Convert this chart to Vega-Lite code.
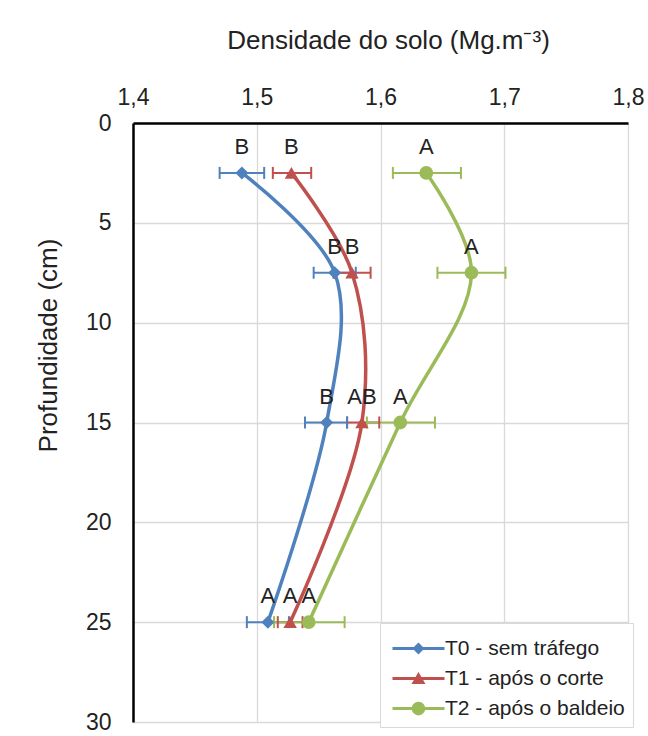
{
  "$schema": "https://vega.github.io/schema/vega-lite/v6.json",
  "width": 495,
  "height": 599,
  "autosize": {"type": "none"},
  "padding": {"left": 133, "top": 123, "right": 20, "bottom": 14},
  "background": "white",
  "config": {
    "view": {"stroke": null},
    "font": "Liberation Sans",
    "axis": {"labelFont": "Liberation Sans", "titleFont": "Liberation Sans", "labelColor": "#222222", "titleColor": "#222222", "titleFontWeight": "normal", "gridColor": "#D9D9D9", "gridWidth": 1.3, "ticks": false, "labelFlush": false},
    "legend": {"labelFont": "Liberation Sans", "titleFont": "Liberation Sans"}
  },
  "data": {
    "values": [
      {"serie": "T0 - sem tráfego", "depth": 2.5, "dens": 1.488, "lo": 1.470, "hi": 1.506, "letra": "B"},
      {"serie": "T0 - sem tráfego", "depth": 7.5, "dens": 1.563, "lo": 1.546, "hi": 1.580, "letra": "B"},
      {"serie": "T0 - sem tráfego", "depth": 15, "dens": 1.5565, "lo": 1.539, "hi": 1.573, "letra": "B"},
      {"serie": "T0 - sem tráfego", "depth": 25, "dens": 1.509, "lo": 1.492, "hi": 1.526, "letra": "A"},
      {"serie": "T1 - após o corte", "depth": 2.5, "dens": 1.528, "lo": 1.513, "hi": 1.544, "letra": "B"},
      {"serie": "T1 - após o corte", "depth": 7.5, "dens": 1.577, "lo": 1.562, "hi": 1.592, "letra": "B"},
      {"serie": "T1 - após o corte", "depth": 15, "dens": 1.585, "lo": 1.573, "hi": 1.599, "letra": "AB"},
      {"serie": "T1 - após o corte", "depth": 25, "dens": 1.527, "lo": 1.517, "hi": 1.537, "letra": "A"},
      {"serie": "T2 - após o baldeio", "depth": 2.5, "dens": 1.637, "lo": 1.610, "hi": 1.665, "letra": "A"},
      {"serie": "T2 - após o baldeio", "depth": 7.5, "dens": 1.6735, "lo": 1.646, "hi": 1.701, "letra": "A"},
      {"serie": "T2 - após o baldeio", "depth": 15, "dens": 1.616, "lo": 1.589, "hi": 1.644, "letra": "A"},
      {"serie": "T2 - após o baldeio", "depth": 25, "dens": 1.542, "lo": 1.514, "hi": 1.571, "letra": "A"}
    ]
  },
  "layer": [
    {
      "mark": {"type": "point", "filled": true, "opacity": 0, "strokeWidth": 0},
      "encoding": {
        "y": {
          "field": "depth", "type": "quantitative",
          "scale": {"domain": [0, 30], "reverse": true, "nice": false},
          "axis": {"values": [0, 5, 10, 15, 20, 25, 30], "title": "Profundidade (cm)", "titleFontSize": 26, "labelFontSize": 23, "labelPadding": 22, "domainColor": "#000000", "domainWidth": 2.5, "titleAngle": -90, "titleX": -85, "titleY": 222, "titleAlign": "center", "titleBaseline": "middle"}
        },
        "x": {
          "field": "dens", "type": "quantitative",
          "scale": {"domain": [1.4, 1.8], "nice": false, "zero": false},
          "axis": {"orient": "top", "values": [1.4, 1.5, 1.6, 1.7, 1.8], "labelExpr": "replace(format(datum.value, '.1f'), '.', ',')", "title": "Densidade do solo (Mg.m⁻³)", "titleFontSize": 26, "labelFontSize": 23, "labelPadding": 14, "domainColor": "#000000", "domainWidth": 2.5, "titleX": 255, "titleY": -83, "titleAlign": "center", "titleBaseline": "middle"}
        },
        "color": {
          "field": "serie", "type": "nominal",
          "scale": {"domain": ["T0 - sem tráfego", "T1 - após o corte", "T2 - após o baldeio"], "range": ["#4F81BD", "#C0504D", "#9BBB59"]},
          "legend": {"orient": "none", "legendX": 247, "legendY": 500, "title": " ", "titleFontSize": 4, "titlePadding": 3, "labelFontSize": 21, "labelColor": "#222222", "labelLimit": 400, "padding": 8, "strokeColor": "#D9D9D9", "fillColor": "white", "rowPadding": 8, "labelOffset": 36, "symbolSize": 144, "symbolStrokeWidth": 0, "symbolOpacity": 1}
        },
        "shape": {
          "field": "serie", "type": "nominal",
          "scale": {"domain": ["T0 - sem tráfego", "T1 - após o corte", "T2 - após o baldeio"], "range": [
            "M-1,-0.25H7.67V0.25H-1Z M3.33,-1L4.33,0L3.33,1L2.33,0Z",
            "M-1,-0.25H7.67V0.25H-1Z M3.33,-1.1L4.5,0.9L2.16,0.9Z",
            "M-1,-0.25H7.67V0.25H-1Z M2.2,0A1.13,1.13 0 1,1 4.46,0A1.13,1.13 0 1,1 2.2,0Z"
          ]},
          "legend": {"orient": "none", "legendX": 247, "legendY": 500, "title": " ", "titleFontSize": 4, "titlePadding": 3, "labelFontSize": 21, "labelColor": "#222222", "labelLimit": 400, "padding": 8, "strokeColor": "#D9D9D9", "fillColor": "white", "rowPadding": 8, "labelOffset": 36, "symbolSize": 144, "symbolStrokeWidth": 0, "symbolOpacity": 1}
        }
      }
    },
    {
      "mark": {"type": "rule", "strokeWidth": 2},
      "encoding": {
        "x": {"field": "lo", "type": "quantitative"},
        "x2": {"field": "hi"},
        "y": {"field": "depth", "type": "quantitative"},
        "color": {"field": "serie", "type": "nominal", "legend": null}
      }
    },
    {
      "mark": {"type": "tick", "orient": "vertical", "size": 12, "thickness": 2, "opacity": 1},
      "encoding": {"x": {"field": "lo", "type": "quantitative"}, "y": {"field": "depth", "type": "quantitative"}, "color": {"field": "serie", "type": "nominal", "legend": null}}
    },
    {
      "mark": {"type": "tick", "orient": "vertical", "size": 12, "thickness": 2, "opacity": 1},
      "encoding": {"x": {"field": "hi", "type": "quantitative"}, "y": {"field": "depth", "type": "quantitative"}, "color": {"field": "serie", "type": "nominal", "legend": null}}
    },
    {
      "mark": {"type": "line", "strokeWidth": 3.5, "interpolate": "catmull-rom"},
      "encoding": {
        "x": {"field": "dens", "type": "quantitative"},
        "y": {"field": "depth", "type": "quantitative"},
        "color": {"field": "serie", "type": "nominal", "legend": null},
        "order": {"field": "depth", "type": "quantitative"}
      }
    },
    {
      "transform": [{"filter": "datum.serie == 'T0 - sem tráfego'"}],
      "mark": {"type": "point", "shape": "diamond", "filled": true, "size": 170, "opacity": 1},
      "encoding": {"x": {"field": "dens", "type": "quantitative"}, "y": {"field": "depth", "type": "quantitative"}, "color": {"field": "serie", "type": "nominal", "legend": null}}
    },
    {
      "transform": [{"filter": "datum.serie == 'T1 - após o corte'"}],
      "mark": {"type": "point", "shape": "triangle-up", "filled": true, "size": 180, "opacity": 1},
      "encoding": {"x": {"field": "dens", "type": "quantitative"}, "y": {"field": "depth", "type": "quantitative"}, "color": {"field": "serie", "type": "nominal", "legend": null}}
    },
    {
      "transform": [{"filter": "datum.serie == 'T2 - após o baldeio'"}],
      "mark": {"type": "point", "shape": "circle", "filled": true, "size": 190, "opacity": 1},
      "encoding": {"x": {"field": "dens", "type": "quantitative"}, "y": {"field": "depth", "type": "quantitative"}, "color": {"field": "serie", "type": "nominal", "legend": null}}
    },
    {
      "mark": {"type": "text", "fontSize": 22, "dy": -26, "baseline": "middle", "color": "#222222"},
      "encoding": {
        "x": {"field": "dens", "type": "quantitative"},
        "y": {"field": "depth", "type": "quantitative"},
        "text": {"field": "letra"}
      }
    }
  ]
}
